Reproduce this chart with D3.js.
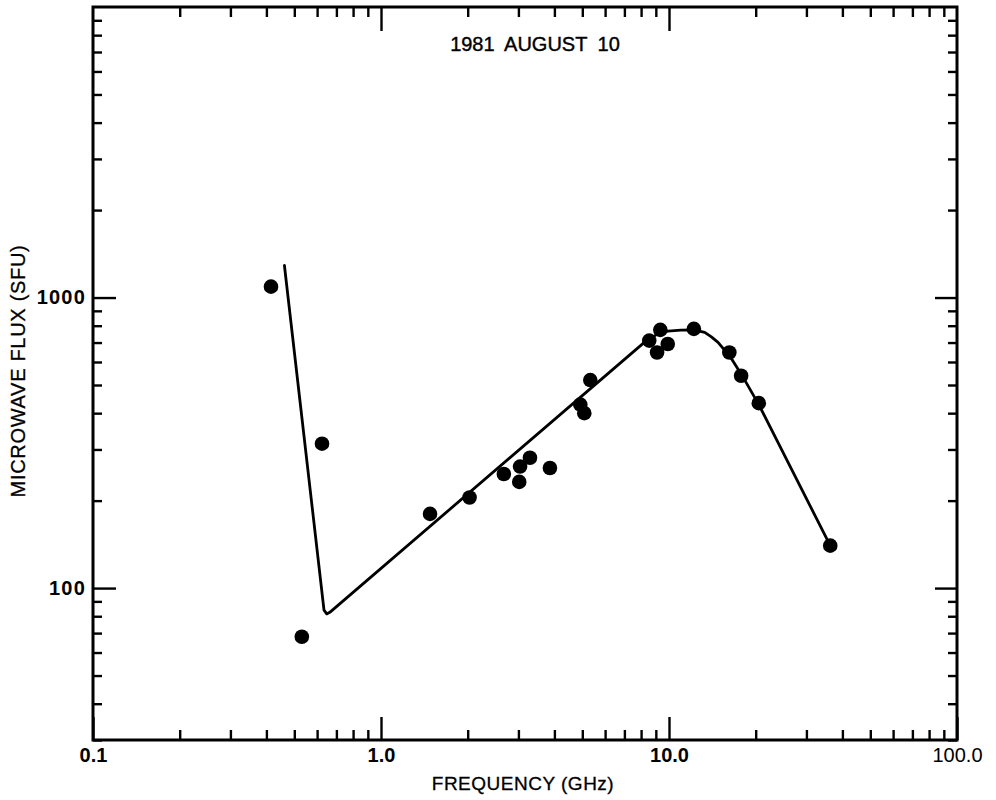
<!DOCTYPE html>
<html>
<head>
<meta charset="utf-8">
<script src="https://cdn.jsdelivr.net/npm/d3@7"></script>
<style>
  body { margin: 0; background: #fff; }
  svg { display: block; font-family: "Liberation Sans", Arial, sans-serif; }
  .axis path, .axis line { stroke: #000; }
</style>
</head>
<body>
<svg id="chart"></svg>
<script>
// observed flux densities
const obsFreq = [0.415, 0.531, 0.624, 1.48, 2.03, 2.67, 3.02, 3.04, 3.29, 3.86,
                 4.92, 5.08, 5.33, 8.54, 9.09, 9.33, 9.90, 12.2, 16.2, 17.8, 20.5, 36.3];
const obsFlux = [1090, 68, 314, 180, 205, 247, 232, 262, 281, 259,
                 428, 400, 520, 711, 647, 774, 692, 780, 647, 538, 433, 140];

// fitted spectrum
const fitFreq = [0.462, 0.634, 0.648, 0.664, 8.21, 9.14, 9.90, 11.0, 12.2, 13.3,
                 14.0, 14.8, 16.4, 18.2, 20.5, 36.3];
const fitFlux = [1289, 84, 81.5, 82.5, 701, 750, 766, 773, 774, 759,
                 734, 701, 621, 526, 428, 140];

const xMajor = [0.1, 1, 10, 100];
const xLabels = ['0.1', '1.0', '10.0', '100.0'];
const yMajor = [100, 1000];
const yLabels = ['100', '1000'];

const width = 996;
const height = 800;
const padLeft = 93;
const padRight = 957;
const padTop = 7;
const padBot = 740;

const chart = d3.select('#chart').attr('width', width).attr('height', height);

const xScale = d3.scaleLog().domain([0.1, 100]).range([padLeft, padRight]);
const yScale = d3.scaleLog().domain([30, 10000]).range([padBot, padTop]);

// minor ticks 2..9 in every decade
const xMinor = xScale.ticks().filter(v => !xMajor.includes(+v.toPrecision(3)));
const yMinor = yScale.ticks().filter(v => ![100, 1000, 10000].includes(+v.toPrecision(3)));

/* frame */
chart.append('rect')
  .attr('x', padLeft).attr('y', padTop)
  .attr('width', padRight - padLeft).attr('height', padBot - padTop)
  .attr('fill', 'none').attr('stroke', '#000').attr('stroke-width', 3);

const tickStyle = g => {
  g.select('.domain').remove();
  g.selectAll('line').attr('stroke-width', 2.4);
};

/* Bottom axis */
chart.append('g')
  .attr('class', 'axis')
  .attr('transform', `translate(0, ${padBot})`)
  .call(d3.axisBottom(xScale).tickValues(xMinor).tickSize(-10).tickFormat(''))
  .call(tickStyle);
const botMajor = chart.append('g')
  .attr('class', 'axis')
  .attr('transform', `translate(0, ${padBot})`)
  .call(d3.axisBottom(xScale).tickValues(xMajor).tickSize(-23).tickPadding(8)
    .tickFormat((d, i) => xLabels[i]))
  .call(tickStyle);
botMajor.selectAll('text')
  .attr('font-size', 20)
  .attr('font-weight', (d, i) => (i === 3 ? 'normal' : 'bold'))
  .attr('fill', '#000');

/* Top axis */
chart.append('g')
  .attr('class', 'axis')
  .attr('transform', `translate(0, ${padTop})`)
  .call(d3.axisTop(xScale).tickValues(xMinor).tickSize(-10).tickFormat(''))
  .call(tickStyle);
chart.append('g')
  .attr('class', 'axis')
  .attr('transform', `translate(0, ${padTop})`)
  .call(d3.axisTop(xScale).tickValues([1, 10]).tickSize(-24).tickFormat(''))
  .call(tickStyle);

/* Left axis */
chart.append('g')
  .attr('class', 'axis')
  .attr('transform', `translate(${padLeft}, 0)`)
  .call(d3.axisLeft(yScale).tickValues(yMinor).tickSize(-9).tickFormat(''))
  .call(tickStyle);
const leftMajor = chart.append('g')
  .attr('class', 'axis')
  .attr('transform', `translate(${padLeft}, 0)`)
  .call(d3.axisLeft(yScale).tickValues(yMajor).tickSize(-23).tickPadding(7)
    .tickFormat((d, i) => yLabels[i]))
  .call(tickStyle);
leftMajor.selectAll('text')
  .attr('font-size', 20)
  .attr('font-weight', 'bold')
  .attr('letter-spacing', 1.2)
  .attr('fill', '#000');

/* Right axis */
chart.append('g')
  .attr('class', 'axis')
  .attr('transform', `translate(${padRight}, 0)`)
  .call(d3.axisRight(yScale).tickValues(yMinor).tickSize(-9).tickFormat(''))
  .call(tickStyle);
chart.append('g')
  .attr('class', 'axis')
  .attr('transform', `translate(${padRight}, 0)`)
  .call(d3.axisRight(yScale).tickValues(yMajor).tickSize(-22).tickFormat(''))
  .call(tickStyle);

/* fitted curve */
const fit = fitFreq.map((f, i) => [f, fitFlux[i]]);
chart.append('path')
  .datum(fit)
  .attr('d', d3.line().x(d => xScale(d[0])).y(d => yScale(d[1])))
  .attr('fill', 'none')
  .attr('stroke', '#000')
  .attr('stroke-width', 2.8)
  .attr('stroke-linejoin', 'round')
  .attr('stroke-linecap', 'round');

/* data points */
chart.selectAll('circle.obs')
  .data(obsFreq.map((f, i) => [f, obsFlux[i]]))
  .enter()
  .append('circle')
  .attr('class', 'obs')
  .attr('cx', d => xScale(d[0]))
  .attr('cy', d => yScale(d[1]))
  .attr('r', 7.3)
  .attr('fill', '#000');

/* labels */
chart.append('text')
  .attr('x', 535).attr('y', 51)
  .attr('text-anchor', 'middle')
  .attr('font-size', 20)
  .attr('word-spacing', 5)
  .attr('stroke', '#000').attr('stroke-width', 0.4)
  .text('1981 AUGUST 10');

chart.append('text')
  .attr('x', 523).attr('y', 790)
  .attr('text-anchor', 'middle')
  .attr('font-size', 19)
  .attr('letter-spacing', 0.5)
  .attr('stroke', '#000').attr('stroke-width', 0.3)
  .text('FREQUENCY (GHz)');

chart.append('text')
  .attr('transform', 'translate(25, 371) rotate(-90)')
  .attr('text-anchor', 'middle')
  .attr('font-size', 20)
  .attr('letter-spacing', 0.7)
  .attr('stroke', '#000').attr('stroke-width', 0.3)
  .text('MICROWAVE FLUX (SFU)');
</script>
</body>
</html>
